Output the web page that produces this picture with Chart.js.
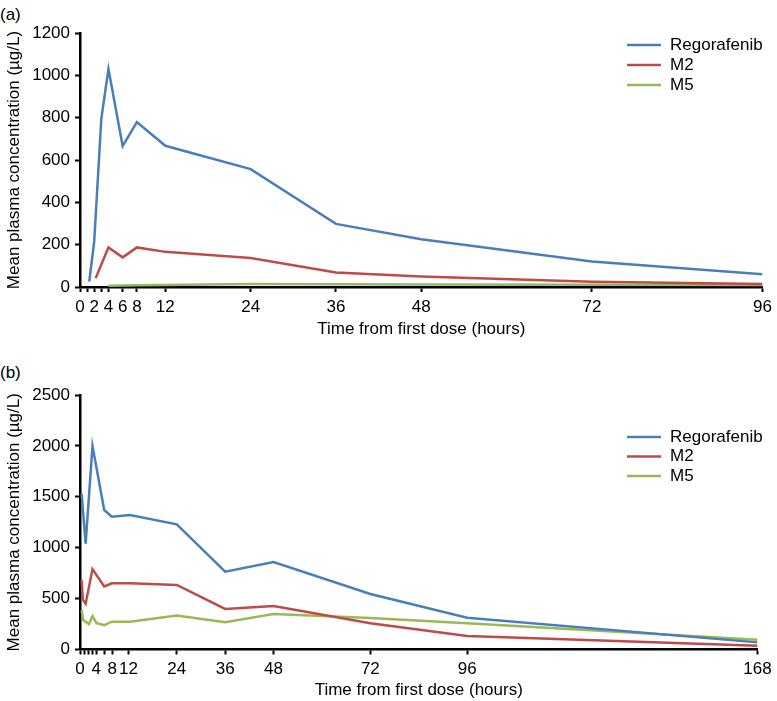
<!DOCTYPE html>
<html>
<head>
<meta charset="utf-8">
<script src="https://cdn.jsdelivr.net/npm/chart.js@4"></script>
<style>
  body { margin: 0; background: #fff; width: 777px; height: 701px; overflow: hidden; font-family: "Liberation Sans", Arial, sans-serif; }
  canvas { position: absolute; left: 0; }
  .painel { position: absolute; left: 0; font-size: 17px; line-height: 20px; color: #000; }
</style>
</head>
<body>
<div class="painel" style="top:5px">(a)</div>
<canvas id="graficoA" width="777" height="345" style="top:0"></canvas>
<div class="painel" style="top:363px">(b)</div>
<canvas id="graficoB" width="777" height="356" style="top:345px"></canvas>
<script>
var cores = ["#4A7EBB", "#BE4B48", "#98B954"];
var nomes = ["Regorafenib", "M2", "M5"];
var fonte = { family: '"Liberation Sans", Arial, sans-serif', size: 17 };

// (a) single dose
var tempoRegoA = [1.3, 2, 3, 4, 6, 8, 12, 24, 36, 48, 72, 96];
var regoA = [26, 215, 796, 1030, 666, 779, 667, 557, 298, 226, 121, 60];
var tempoM2A = [2.2, 4, 6, 8, 12, 24, 36, 48, 72, 96];
var m2A = [42, 187, 140, 187, 166, 137, 69, 50, 25, 14];
var tempoM5A = [4, 6, 8, 12, 24, 36, 48, 72, 96];
var m5A = [6, 7, 8, 9, 14, 13, 12, 11, 10];
var ticksXA = [0, 1, 2, 3, 4, 6, 8, 12, 24, 36, 48, 72, 96];
var rotulosXA = [0, 2, 4, 6, 8, 12, 24, 36, 48, 72, 96];

// (b) repeated dose
var tempoRegoB = [0.4, 1.4, 3.1, 6, 7.9, 12.4, 24, 36, 48, 72, 96, 168];
var regoB = [1530, 1040, 2000, 1370, 1305, 1320, 1230, 764, 860, 545, 312, 70];
var tempoM2B = [0.4, 0.7, 1.4, 3.1, 6, 7.9, 12.4, 24, 36, 48, 72, 96, 168];
var m2B = [680, 490, 450, 790, 620, 650, 650, 634, 398, 427, 257, 133, 38];
var tempoM5B = [0.4, 0.8, 2.2, 3.1, 4.1, 6, 7.9, 12.4, 24, 36, 48, 72, 96, 168];
var m5B = [386, 290, 250, 327, 258, 240, 273, 273, 335, 267, 349, 310, 257, 95];
var ticksXB = [0, 1, 2, 3, 4, 6, 8, 12, 24, 36, 48, 72, 96, 168];
var rotulosXB = [0, 4, 8, 12, 24, 36, 48, 72, 96, 168];

function pontos(tempos, valores) {
  return tempos.map(function (t, i) { return { x: t, y: valores[i] }; });
}

var legendaPlugin = {
  id: "legendaManual",
  afterDraw: function (chart, args, opts) {
    var ctx = chart.ctx;
    ctx.save();
    ctx.font = "17px " + fonte.family;
    ctx.textBaseline = "middle";
    chart.data.datasets.forEach(function (ds, i) {
      var y = opts.y + i * opts.gap;
      ctx.strokeStyle = ds.borderColor;
      ctx.lineWidth = 2.5;
      ctx.beginPath();
      ctx.moveTo(opts.x, y);
      ctx.lineTo(opts.x + 34, y);
      ctx.stroke();
      ctx.fillStyle = "#000";
      ctx.fillText(ds.label, opts.x + 43, y);
    });
    ctx.restore();
  },
};

function plotarGrafico(id, series, eixo) {
  const data = {
    datasets: series.map(function (s, i) {
      return {
        label: nomes[i],
        data: s,
        borderColor: cores[i],
        backgroundColor: cores[i],
        borderWidth: 2.5,
        pointRadius: 0,
        tension: 0,
        fill: false,
      };
    }),
  };

  const config = {
    type: "line",
    data: data,
    options: {
      responsive: false,
      animation: false,
      layout: { padding: { left: 0, right: eixo.direita, top: eixo.topo, bottom: 0 } },
      plugins: {
        legend: { display: false },
        tooltip: { enabled: false },
        legendaManual: { x: 627, y: eixo.legendaY, gap: eixo.legendaGap },
      },
      scales: {
        x: {
          type: "linear",
          min: 0,
          max: eixo.maxX,
          afterBuildTicks: function (scale) {
            scale.ticks = eixo.ticks.map(function (v) { return { value: v }; });
          },
          afterFit: function (scale) { scale.height = eixo.alturaX; },
          ticks: {
            autoSkip: false,
            maxRotation: 0,
            color: "#000",
            font: fonte,
            padding: 5,
            callback: function (v) { return eixo.rotulos.indexOf(v) >= 0 ? String(v) : ""; },
          },
          grid: { drawOnChartArea: false, drawTicks: true, tickLength: 5, tickWidth: 2, tickColor: "#000" },
          border: { color: "#000", width: 2.5 },
          title: {
            display: true,
            text: "Time from first dose (hours)",
            color: "#000",
            font: fonte,
            padding: { top: 0, bottom: eixo.tituloX },
          },
        },
        y: {
          min: 0,
          max: eixo.maxY,
          afterFit: function (scale) { scale.width = 80; },
          ticks: {
            stepSize: eixo.passoY,
            color: "#000",
            font: fonte,
            padding: 5,
            callback: function (v) { return String(v); },
          },
          grid: { drawOnChartArea: false, drawTicks: true, tickLength: 5, tickWidth: 2, tickColor: "#000" },
          border: { color: "#000", width: 2.5 },
          title: {
            display: true,
            text: "Mean plasma concentration (µg/L)",
            color: "#000",
            font: fonte,
            padding: { top: 4, bottom: 0 },
          },
        },
      },
    },
    plugins: [legendaPlugin],
  };
  return new Chart(document.getElementById(id), config);
}

plotarGrafico("graficoA", [pontos(tempoRegoA, regoA), pontos(tempoM2A, m2A), pontos(tempoM5A, m5A)], {
  maxX: 96, maxY: 1200, passoY: 200, ticks: ticksXA, rotulos: rotulosXA,
  direita: 10, topo: 33, alturaX: 58, tituloX: 5, legendaY: 45, legendaGap: 20,
});

plotarGrafico("graficoB", [pontos(tempoRegoB, regoB), pontos(tempoM2B, m2B), pontos(tempoM5B, m5B)], {
  maxX: 168, maxY: 2500, passoY: 500, ticks: ticksXB, rotulos: rotulosXB,
  direita: 19.5, topo: 50, alturaX: 51.5, tituloX: 0, legendaY: 92, legendaGap: 19.5,
});
</script>
</body>
</html>
